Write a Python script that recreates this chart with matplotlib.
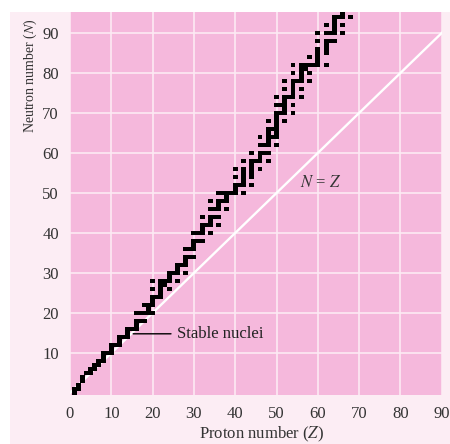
import matplotlib
matplotlib.use("Agg")
import matplotlib.pyplot as plt
from matplotlib.patches import Rectangle

# ---- data: stable nuclei (proton number Z -> neutron numbers N) ----
proton_numbers = [1, 2, 3, 4, 5, 6, 7, 8, 9, 10, 11, 12, 13, 14, 15, 16, 17, 18, 19, 20,
                  21, 22, 23, 24, 25, 26, 27, 28, 29, 30, 31, 32, 33, 34, 35, 36, 37, 38,
                  39, 40, 41, 42, 44, 45, 46, 47, 48, 49, 50, 51, 52, 53, 54, 55, 56, 57,
                  58, 59, 60, 62, 63, 64, 65, 66, 67, 68]
stable_neutrons = [
    [0, 1], [1, 2], [3, 4], [5], [5, 6], [6, 7], [7, 8], [8, 9, 10], [10], [10, 11, 12],
    [12], [12, 13, 14], [14], [14, 15, 16], [16], [16, 17, 18, 20], [18, 20], [18, 20, 22],
    [20, 21, 22], [20, 22, 23, 24, 26, 28],
    [24], [24, 25, 26, 27, 28], [27, 28], [26, 28, 29, 30], [30], [28, 30, 31, 32], [32],
    [30, 32, 33, 34, 36], [34, 36], [34, 36, 37, 38, 40], [38, 40], [38, 40, 41, 42, 44],
    [42], [40, 42, 43, 44, 46, 48], [44, 46], [42, 44, 46, 47, 48, 50], [48, 50],
    [46, 48, 49, 50], [50], [50, 51, 52, 54, 56], [52], [50, 52, 53, 54, 55, 56, 58],
    [52, 54, 55, 56, 57, 58, 60], [58], [56, 58, 59, 60, 62, 64], [60, 62],
    [58, 60, 62, 63, 64, 65, 66, 68], [64, 66], [62, 64, 65, 66, 67, 68, 69, 70, 72, 74],
    [70, 72], [68, 70, 71, 72, 73, 74, 76, 78], [74], [70, 72, 74, 75, 76, 77, 78, 80, 82],
    [78], [74, 76, 78, 79, 80, 81, 82], [81, 82], [78, 80, 82, 84], [82],
    [82, 83, 84, 85, 86, 88, 90], [82, 85, 86, 87, 88, 90, 92], [88, 90],
    [88, 90, 91, 92, 93, 94, 96], [94], [90, 92, 94, 95, 96, 97, 98], [98],
    [94, 96, 98, 99, 100, 102],
]
x_ticks = [0, 10, 20, 30, 40, 50, 60, 70, 80, 90]
y_ticks = [10, 20, 30, 40, 50, 60, 70, 80, 90]
line_nz = [0, 90]

plt.rcParams['font.family'] = ['Liberation Serif', 'DejaVu Serif']

fig = plt.figure(figsize=(4.5, 4.44), dpi=100)
fig.patch.set_facecolor('white')
# light pink panel behind the chart
panel = Rectangle((10 / 450, 0), 1 - 10 / 450, 1 - 12 / 444,
                  transform=fig.transFigure, facecolor='#fcedf4',
                  edgecolor='none', zorder=-10)
fig.add_artist(panel)

ax = fig.add_axes([70 / 450, 1 - 395 / 444, (441.7 - 70) / 450, (395 - 12) / 444])
ax.set_zorder(1)
ax.set_facecolor('#f5b8dc')
ax.set_xlim(0, 90)
ax.set_ylim(-0.5, 95.25)

for s in ax.spines.values():
    s.set_visible(False)

ax.set_xticks(x_ticks)
ax.set_yticks(y_ticks)
ax.tick_params(length=0, labelsize=12, colors='#333333', pad=8)
ax.grid(True, color='#fdeaf4', linewidth=1.2)
ax.set_axisbelow(True)

# N = Z line
ax.plot(line_nz, line_nz, color='white', linewidth=1.7, zorder=2)

# stable nuclei squares
for z, ns in zip(proton_numbers, stable_neutrons):
    for n in ns:
        ax.add_patch(Rectangle((z - 0.6, n - 0.62), 1.2, 1.24, facecolor='black',
                               edgecolor='none', zorder=3))

ax.text(55.8, 52.5, r'$N$ = $Z$', fontsize=12, color='#333333', ha='left', va='center',
        math_fontfamily='stix')
ax.annotate('Stable nuclei', xy=(15.3, 14.8), xytext=(25.8, 14.8),
            fontsize=12, color='#222222', va='center', ha='left',
            arrowprops=dict(arrowstyle='-', color='black', lw=1.0,
                            shrinkA=2, shrinkB=0))

ax.set_xlabel(r'Proton number ($Z$)', fontsize=12, color='#333333',
              math_fontfamily='stix')
ax.xaxis.set_label_coords(0.516, -0.079)
ax.set_ylabel(r'Neutron number ($N$)', fontsize=10, color='#333333',
              math_fontfamily='stix')
ax.yaxis.set_label_coords(-0.084, 0.835)

fig.savefig('out.png', dpi=100, facecolor=fig.get_facecolor())
